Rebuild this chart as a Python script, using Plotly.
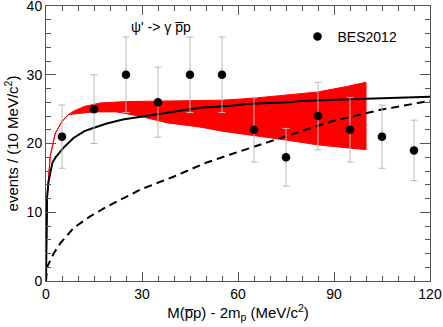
import plotly.graph_objects as go

# BES2012 data points (10 MeV/c^2 bins)
data_x = [5, 15, 25, 35, 45, 55, 65, 75, 85, 95, 105, 115]
data_y = [21, 25, 30, 26, 30, 30, 22, 18, 24, 22, 21, 19]
data_err = [4.6, 5.0, 5.5, 5.1, 5.5, 5.5, 4.7, 4.2, 4.9, 4.7, 4.6, 4.4]

# red uncertainty band
band_x = [0, 0.2, 0.5, 1.3, 2.9, 5, 7, 8.6, 12, 17, 25, 40, 55, 65, 75, 85, 94, 100]
band_upper = [0, 8, 13, 18.1, 21.5, 23.2, 24.2, 24.7, 25.4, 25.9, 26.1, 26.2, 26.3, 26.6, 27.0, 27.5, 28.3, 28.9]
band_lower_x = [0, 0.2, 0.5, 1.3, 2.9, 5, 7, 8.6, 12, 15, 22, 29, 38, 48, 55, 64, 75, 85, 100]
band_lower = [0, 8, 13, 18.1, 21.5, 23.2, 24.2, 24.3, 24.5, 24.6, 24.6, 24.0, 23.0, 22.4, 21.8, 21.2, 20.5, 19.8, 19.1]

# black solid curve
solid_x = [0, 0.15, 0.3, 0.8, 2, 3, 5.5, 8.6, 12, 15, 19, 24, 30, 39, 48, 58, 64, 76, 80, 100, 120]
solid_y = [0, 8, 12, 14.5, 17.2, 18.0, 19.4, 20.8, 21.8, 22.3, 22.9, 23.5, 23.9, 24.6, 25.2, 25.5, 25.8, 26.0, 26.2, 26.5, 26.8]

# black dashed curve
dash_x = [0, 0.3, 2.4, 4.5, 8.6, 13.8, 19, 29.5, 40, 50, 57.6, 73, 89, 104.5, 120]
dash_y = [0, 2.0, 4.0, 5.5, 7.7, 9.4, 10.8, 13.3, 15.2, 17.2, 18.4, 20.8, 23.2, 24.9, 26.2]

FONT = "Liberation Sans, Arial, sans-serif"
AXIS_COLOR = "#555555"

fig = go.Figure()

fig.add_trace(go.Scatter(
    x=band_x + band_lower_x[::-1],
    y=band_upper + band_lower[::-1],
    fill="toself", fillcolor="#ff0000",
    mode="lines", line=dict(color="#ff0000", width=1),
    showlegend=False, hoverinfo="skip",
))

fig.add_trace(go.Scatter(
    x=solid_x, y=solid_y, mode="lines",
    line=dict(color="black", width=2), showlegend=False,
))

fig.add_trace(go.Scatter(
    x=dash_x, y=dash_y, mode="lines",
    line=dict(color="black", width=2, dash="8px,5px"), showlegend=False,
))

fig.add_trace(go.Scatter(
    x=data_x, y=data_y, mode="markers", name="BES2012",
    marker=dict(color="black", size=8.5),
    error_y=dict(type="data", array=data_err, color="#b8b8b8", thickness=1, width=3.5),
))

fig.add_annotation(
    x=35.8, y=37, xref="x", yref="y", showarrow=False,
    text="\u03c8' -> \u03b3 p\u0305p", font=dict(family=FONT, size=14, color="black"),
)

axis_common = dict(
    showline=True, linecolor=AXIS_COLOR, linewidth=1, mirror="allticks",
    ticks="inside", tickcolor=AXIS_COLOR, showgrid=False, zeroline=False,
    automargin=False, ticklabeloverflow="allow",
    tickfont=dict(family=FONT, size=14, color="black"),
)

fig.update_xaxes(
    range=[0, 120], dtick=30, ticklen=9,
    minor=dict(dtick=5, ticks="inside", ticklen=5, tickcolor=AXIS_COLOR),
    title=dict(text="M(p\u0305p) - 2m<sub>p</sub> (MeV/c<sup>2</sup>)",
               font=dict(family=FONT, size=15, color="black"), standoff=6),
    **axis_common,
)
fig.update_yaxes(
    range=[0, 40], dtick=10, ticklen=10,
    minor=dict(dtick=2, ticks="inside", ticklen=5, tickcolor=AXIS_COLOR),
    title=dict(text="events / (10 MeV/c<sup>2</sup>)",
               font=dict(family=FONT, size=15, color="black"), standoff=4),
    **axis_common,
)

fig.update_layout(
    width=443, height=327,
    margin=dict(l=46, r=13, t=6, b=46),
    plot_bgcolor="white", paper_bgcolor="white",
    legend=dict(x=0.655, y=0.888, xanchor="left", yanchor="middle",
                bgcolor="rgba(0,0,0,0)", font=dict(family=FONT, size=14, color="black")),
)

# drop the browser's default body margin so the figure sits at the page corner
fig.write_html(
    "out.html",
    config={"displayModeBar": False},
    post_script="document.body.style.margin = '0';",
)
